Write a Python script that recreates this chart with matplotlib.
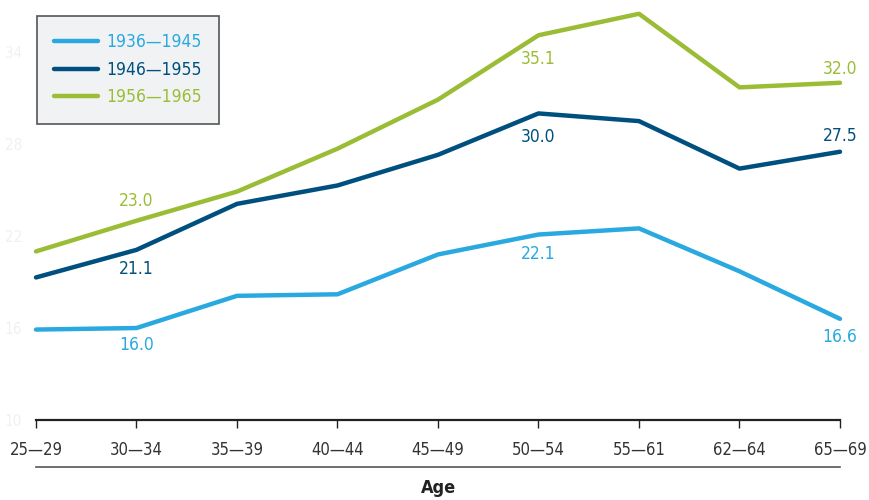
import matplotlib
matplotlib.use("Agg")
import matplotlib.pyplot as plt
from matplotlib.lines import Line2D

plt.rcParams['font.family'] = ['DejaVu Sans']
plt.rcParams['font.stretch'] = 'condensed'

ages = ['25\u201429', '30\u201434', '35\u201439', '40\u201444', '45\u201449',
        '50\u201454', '55\u201461', '62\u201464', '65\u201469']
cohorts = ['1936\u20141945', '1946\u20141955', '1956\u20141965']
c1936 = [15.9, 16.0, 18.1, 18.2, 20.8, 22.1, 22.5, 19.7, 16.6]
c1946 = [19.3, 21.1, 24.1, 25.3, 27.3, 30.0, 29.5, 26.4, 27.5]
c1956 = [21.0, 23.0, 24.9, 27.7, 30.9, 35.1, 36.5, 31.7, 32.0]
yticks = [10, 16, 22, 28, 34]

colors = ['#29a9e0', '#00507f', '#9bbd36']
series = [c1936, c1946, c1956]
# (point index, pixel offset) for the value labels
labels = [[(1, -17), (5, -19), (8, -18)],
          [(1, -19), (5, -24), (8, 16)],
          [(1, 20), (5, -24), (8, 14)]]

fig = plt.figure(figsize=(8.7, 5), dpi=100)
ax = fig.add_axes([36 / 870, 0.16, 804 / 870, 0.84])
x = list(range(len(ages)))

for vals, col, name, labs in zip(series, colors, cohorts, labels):
    ax.plot(x, vals, color=col, lw=3.2, label=name, solid_capstyle='round',
            clip_on=False)
    for i, off in labs:
        ax.annotate(f'{vals[i]:.1f}', (x[i], vals[i]), xytext=(0, off),
                    textcoords='offset pixels', ha='center', va='center',
                    color=col, fontsize=12.5)

ax.set_xlim(0, len(ages) - 1)
ax.set_ylim(10, 37.4)
ax.set_xticks(x)
ax.set_xticklabels(ages, fontsize=12, color='#333333')
ax.set_yticks(yticks)
ax.set_yticklabels([str(t) for t in yticks], fontsize=11, color='#f0f0f0')
ax.tick_params(axis='y', length=0, pad=10)
ax.tick_params(axis='x', length=6, width=1, color='#222222', pad=9)
for s in ['top', 'right', 'left']:
    ax.spines[s].set_visible(False)
ax.spines['bottom'].set_linewidth(1.6)
ax.spines['bottom'].set_color('#222222')

fig.add_artist(Line2D([36 / 870, 840 / 870], [1 - 467 / 500] * 2,
                      color='#555555', lw=1.2))
fig.text(438 / 870, 1 - 488 / 500, 'Age', ha='center', va='center',
         fontsize=13, fontweight='bold', color='#222222')

leg = ax.legend(loc='upper left', bbox_to_anchor=(0.001, 0.962),
                borderaxespad=0, fontsize=12.5, frameon=True, fancybox=False,
                handlelength=2.5, handletextpad=0.5, borderpad=1.0,
                labelspacing=0.55, edgecolor='#555555', facecolor='#f1f2f4',
                framealpha=1)
leg.get_frame().set_linewidth(1.2)
for txt, col in zip(leg.get_texts(), colors):
    txt.set_color(col)

fig.savefig('out.png', dpi=100)
